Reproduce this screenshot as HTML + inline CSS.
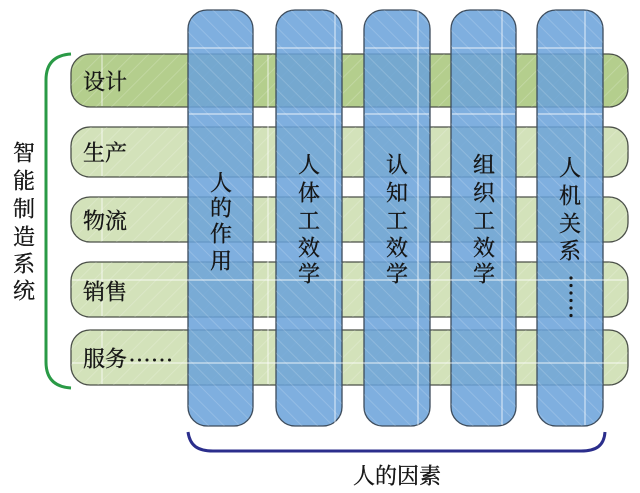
<!DOCTYPE html>
<html>
<head>
<meta charset="utf-8">
<style>
  html,body{margin:0;padding:0;background:#fff;}
  body{width:640px;height:493px;overflow:hidden;}
  svg{display:block;}
  text{font-family:"Noto Serif CJK SC","Noto Serif CJK JP","Liberation Serif",serif;fill:#151515;stroke:#151515;stroke-width:0.35;font-size:22px;}
</style>
</head>
<body>
<svg width="640" height="493" viewBox="0 0 640 493" xmlns="http://www.w3.org/2000/svg">
  <defs>
    <pattern id="hg" patternUnits="userSpaceOnUse" width="11" height="11" patternTransform="rotate(45)">
      <line x1="0" y1="0" x2="0" y2="11" stroke="#ffffff" stroke-width="1.6" stroke-opacity="0.22"/>
    </pattern>
    <pattern id="hb" patternUnits="userSpaceOnUse" width="11" height="11" patternTransform="rotate(-45)">
      <line x1="0" y1="0" x2="0" y2="11" stroke="#ffffff" stroke-width="1.6" stroke-opacity="0.2"/>
    </pattern>
  </defs>

  <!-- Green rows -->
  <g stroke="#4a4f48" stroke-width="1.3">
    <rect x="71" y="54" width="557" height="53" rx="19" fill="#b4ce8d"/>
    <rect x="71" y="127" width="557" height="50" rx="19" fill="#d3e2ba"/>
    <rect x="71" y="197" width="557" height="45" rx="19" fill="#d3e2ba"/>
    <rect x="71" y="262" width="557" height="55" rx="19" fill="#d3e2ba"/>
    <rect x="71" y="330" width="557" height="55" rx="19" fill="#d3e2ba"/>
  </g>
  <g fill="url(#hg)">
    <rect x="71" y="54" width="557" height="53" rx="19"/>
    <rect x="71" y="127" width="557" height="50" rx="19"/>
    <rect x="71" y="197" width="557" height="45" rx="19"/>
    <rect x="71" y="262" width="557" height="55" rx="19"/>
    <rect x="71" y="330" width="557" height="55" rx="19"/>
  </g>

  <!-- Blue columns -->
  <g fill="#6aa2da" fill-opacity="0.86" stroke="#3d4c5c" stroke-width="1.3">
    <rect x="188" y="10" width="65" height="416" rx="19"/>
    <rect x="276" y="10" width="66" height="416" rx="19"/>
    <rect x="364" y="10" width="66" height="416" rx="19"/>
    <rect x="451" y="10" width="65" height="416" rx="19"/>
    <rect x="537" y="10" width="66" height="416" rx="19"/>
  </g>
  <g fill="url(#hb)">
    <rect x="188" y="10" width="65" height="416" rx="19"/>
    <rect x="276" y="10" width="66" height="416" rx="19"/>
    <rect x="364" y="10" width="66" height="416" rx="19"/>
    <rect x="451" y="10" width="65" height="416" rx="19"/>
    <rect x="537" y="10" width="66" height="416" rx="19"/>
  </g>

  <!-- faint white grid lines -->
  <g stroke="#ffffff" stroke-opacity="0.55" stroke-width="1.4">
    <line x1="189" y1="48" x2="252" y2="48"/>
    <line x1="277" y1="48" x2="341" y2="48"/>
    <line x1="365" y1="48" x2="429" y2="48"/>
    <line x1="452" y1="48" x2="515" y2="48"/>
    <line x1="538" y1="48" x2="602" y2="48"/>
    <line x1="189" y1="114" x2="252" y2="114"/>
    <line x1="277" y1="114" x2="341" y2="114"/>
    <line x1="365" y1="114" x2="429" y2="114"/>
    <line x1="452" y1="114" x2="515" y2="114"/>
    <line x1="538" y1="114" x2="602" y2="114"/>
    <line x1="72" y1="280" x2="627" y2="280"/>
    <line x1="72" y1="363" x2="627" y2="363"/>
    <line x1="102" y1="55" x2="102" y2="106"/>
    <line x1="102" y1="128" x2="102" y2="176"/>
    <line x1="102" y1="198" x2="102" y2="241"/>
    <line x1="102" y1="263" x2="102" y2="316"/>
    <line x1="102" y1="331" x2="102" y2="384"/>
    <line x1="268" y1="55" x2="268" y2="384"/>
    <line x1="335" y1="11" x2="335" y2="425"/>
    <line x1="418" y1="11" x2="418" y2="425"/>
    <line x1="502" y1="11" x2="502" y2="425"/>
    <line x1="585" y1="11" x2="585" y2="425"/>
  </g>

  <!-- Left green bracket -->
  <path d="M71,54 C55,55 46,63 46,80 L46,362 C46,379 55,387 71,388" fill="none" stroke="#2a9a46" stroke-width="3"/>

  <!-- Bottom blue bracket -->
  <path d="M188,432 C190,446 198,451 213,451 L581,451 C596,451 604,446 605,432" fill="none" stroke="#2b2e8c" stroke-width="3"/>

  <!-- Row labels -->
  <g dominant-baseline="central">
    <text x="83" y="81">设计</text>
    <text x="83" y="152">生产</text>
    <text x="83" y="220">物流</text>
    <text x="83" y="291">销售</text>
    <text x="83" y="358">服务</text>
  </g>
  <g fill="#151515">
    <circle cx="132" cy="360" r="1.5"/>
    <circle cx="139.5" cy="360" r="1.5"/>
    <circle cx="147" cy="360" r="1.5"/>
    <circle cx="154.5" cy="360" r="1.5"/>
    <circle cx="162" cy="360" r="1.5"/>
    <circle cx="169.5" cy="360" r="1.5"/>
  </g>

  <!-- Left vertical label -->
  <g text-anchor="middle" dominant-baseline="central">
    <text x="24" y="152">智</text>
    <text x="24" y="180">能</text>
    <text x="24" y="208">制</text>
    <text x="24" y="236">造</text>
    <text x="24" y="263">系</text>
    <text x="24" y="290">统</text>
  </g>

  <!-- Column labels -->
  <g text-anchor="middle" dominant-baseline="central">
    <text x="221" y="182">人</text>
    <text x="221" y="207">的</text>
    <text x="221" y="233">作</text>
    <text x="221" y="260">用</text>

    <text x="309" y="164">人</text>
    <text x="309" y="192">体</text>
    <text x="309" y="220">工</text>
    <text x="309" y="247">效</text>
    <text x="309" y="273">学</text>

    <text x="397" y="164">认</text>
    <text x="397" y="192">知</text>
    <text x="397" y="220">工</text>
    <text x="397" y="247">效</text>
    <text x="397" y="273">学</text>

    <text x="484" y="164">组</text>
    <text x="484" y="192">织</text>
    <text x="484" y="220">工</text>
    <text x="484" y="247">效</text>
    <text x="484" y="273">学</text>

    <text x="570" y="167">人</text>
    <text x="570" y="195">机</text>
    <text x="570" y="223">关</text>
    <text x="570" y="250">系</text>
  </g>
  <!-- vertical ellipsis -->
  <g fill="#151515">
    <circle cx="571" cy="278" r="1.6"/>
    <circle cx="571" cy="285.5" r="1.6"/>
    <circle cx="571" cy="293" r="1.6"/>
    <circle cx="571" cy="300.5" r="1.6"/>
    <circle cx="571" cy="308" r="1.6"/>
    <circle cx="571" cy="315.5" r="1.6"/>
  </g>

  <!-- Bottom label -->
  <text x="397" y="475" text-anchor="middle" dominant-baseline="central">人的因素</text>
</svg>
</body>
</html>
